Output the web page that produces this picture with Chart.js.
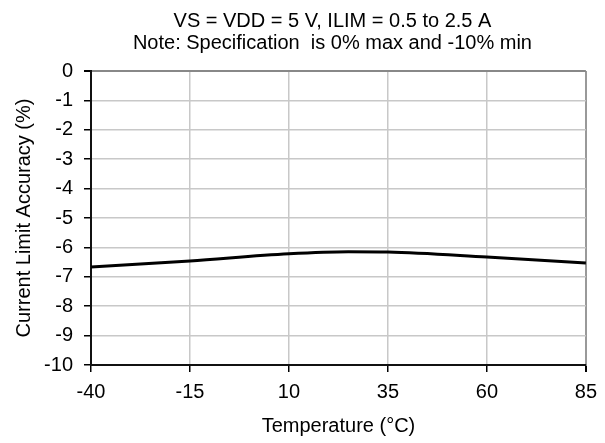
<!DOCTYPE html>
<html>
<head>
<meta charset="utf-8">
<script src="https://cdn.jsdelivr.net/npm/chart.js@4/dist/chart.umd.min.js"></script>
<style>
  html, body { margin: 0; padding: 0; background: #fff; }
  canvas { display: block; }
</style>
</head>
<body>
<canvas id="accuracyChart" width="605" height="443"></canvas>
<script>
// Chart data
const temperatures = [-40, -15, 10, 25, 35, 60, 85];
const accuracy = [-6.67, -6.46, -6.22, -6.15, -6.16, -6.33, -6.53];
const xTicks = [-40, -15, 10, 35, 60, 85];
const yTicks = [0, -1, -2, -3, -4, -5, -6, -7, -8, -9, -10];
const titleLines = [
  'VS = VDD = 5 V, ILIM = 0.5 to 2.5 A',
  'Note: Specification  is 0% max and -10% min'
];

const FONT = '"Liberation Sans", Arial, sans-serif';
const FONT_SIZE = 20;

// white background + title over the plot area
const plotTitle = {
  id: 'plotTitle',
  beforeDraw(chart) {
    const ctx = chart.ctx;
    ctx.save();
    ctx.fillStyle = '#fff';
    ctx.fillRect(0, 0, chart.width, chart.height);
    ctx.restore();
  },
  afterDraw(chart) {
    const ctx = chart.ctx;
    const area = chart.chartArea;
    const cx = (area.left + area.right) / 2 - 6;
    ctx.save();
    ctx.font = FONT_SIZE + 'px ' + FONT;
    ctx.fillStyle = '#000';
    ctx.textAlign = 'center';
    ctx.textBaseline = 'middle';
    titleLines.forEach((line, i) => {
      ctx.fillText(line, cx, 21 + i * 22);
    });
    ctx.restore();
  }
};

new Chart(document.getElementById('accuracyChart'), {
  type: 'line',
  data: {
    datasets: [{
      data: temperatures.map((t, i) => ({ x: t, y: accuracy[i] })),
      borderColor: '#000',
      borderWidth: 3,
      pointRadius: 0,
      tension: 0.4,
      cubicInterpolationMode: 'monotone',
      fill: false
    }]
  },
  options: {
    responsive: false,
    animation: false,
    layout: {
      padding: { top: 71, right: 19, left: 0, bottom: 0 }
    },
    plugins: {
      legend: { display: false },
      tooltip: { enabled: false }
    },
    scales: {
      x: {
        type: 'linear',
        min: -40,
        max: 85,
        afterBuildTicks: (scale) => {
          scale.ticks = xTicks.map(v => ({ value: v }));
        },
        afterFit: (scale) => { scale.height = 78; },
        grid: {
          color: (c) => c.tick && c.tick.value === 85 ? '#999' : '#c8c8c8',
          lineWidth: (c) => c.tick && c.tick.value === 85 ? 2 : 1.5,
          tickColor: '#000',
          tickLength: 7
        },
        border: { color: '#111', width: 2 },
        ticks: {
          color: '#000',
          font: { family: FONT, size: FONT_SIZE },
          padding: 8,
          maxRotation: 0
        },
        title: {
          display: true,
          text: 'Temperature (°C)',
          color: '#000',
          font: { family: FONT, size: FONT_SIZE },
          padding: { top: 0, bottom: 5 }
        }
      },
      y: {
        min: -10,
        max: 0,
        afterBuildTicks: (scale) => {
          scale.ticks = yTicks.map(v => ({ value: v }));
        },
        afterFit: (scale) => { scale.width = 91; },
        grid: {
          color: (c) => c.tick && c.tick.value === 0 ? '#888' : '#c8c8c8',
          lineWidth: (c) => c.tick && c.tick.value === 0 ? 2 : 1.5,
          tickColor: '#000',
          tickLength: 7
        },
        border: { color: '#111', width: 2 },
        ticks: {
          color: '#000',
          font: { family: FONT, size: FONT_SIZE },
          padding: 11
        },
        title: {
          display: true,
          text: 'Current Limit Accuracy (%)',
          color: '#000',
          font: { family: FONT, size: FONT_SIZE },
          padding: { top: 12, bottom: 0 }
        }
      }
    }
  },
  plugins: [plotTitle]
});
</script>
</body>
</html>
